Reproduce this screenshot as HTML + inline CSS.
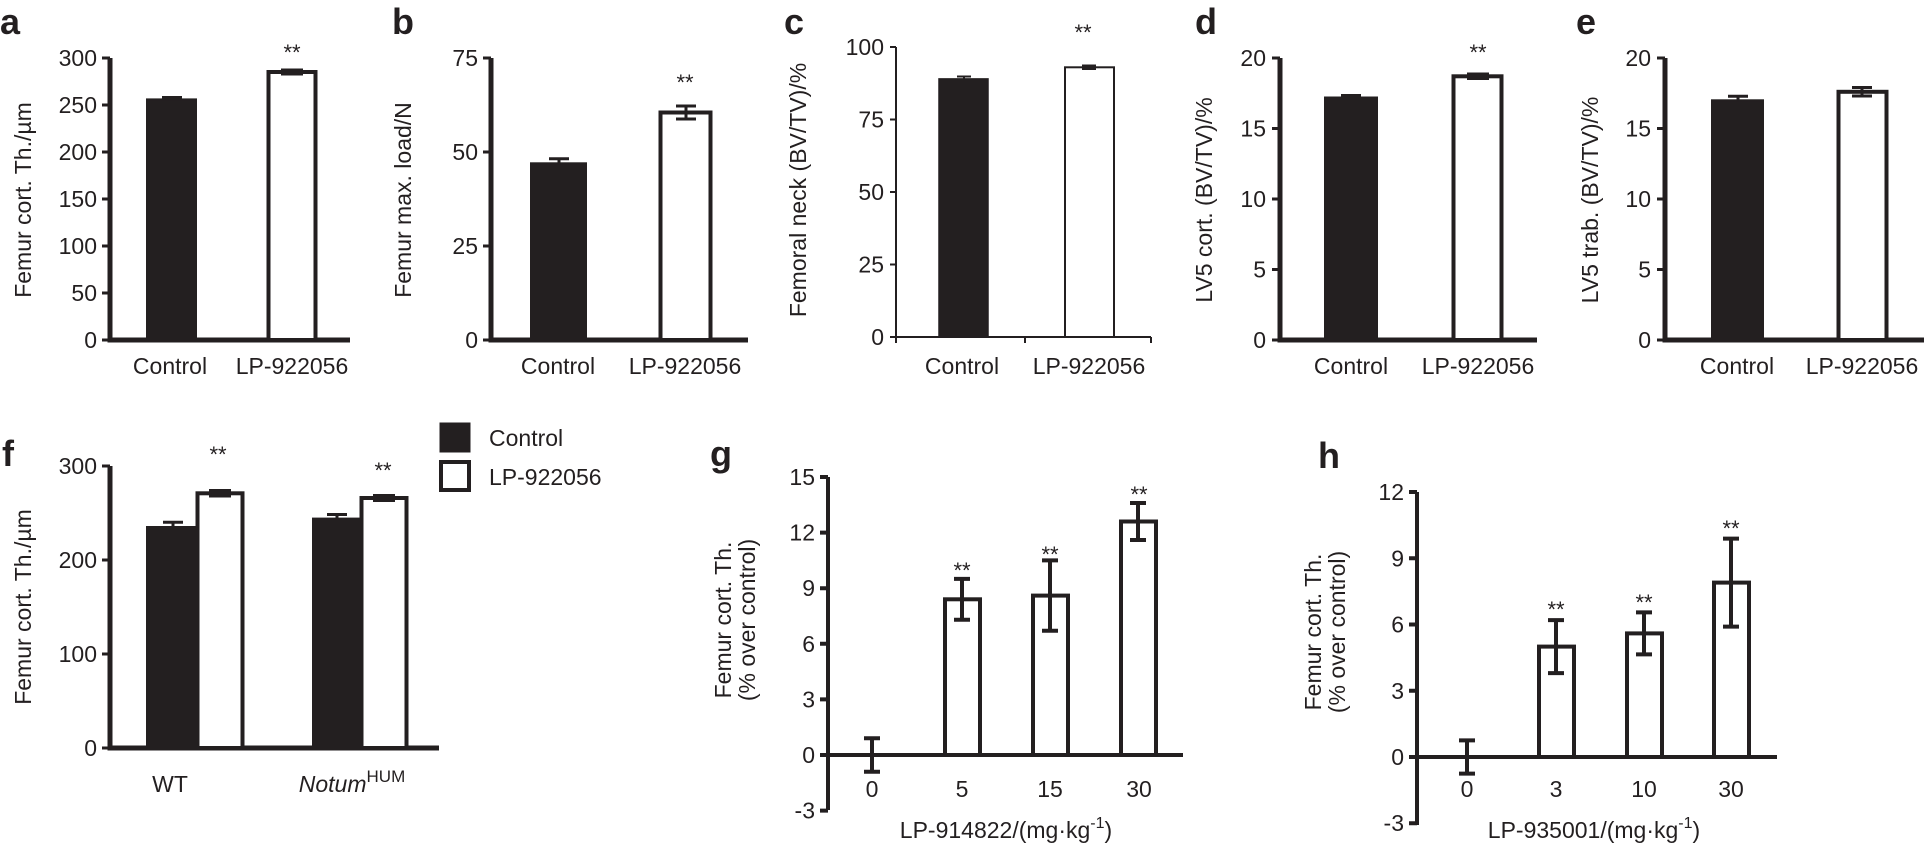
<!DOCTYPE html>
<html><head><meta charset="utf-8"><style>
html,body{margin:0;padding:0;background:#fff;}
svg{display:block;}
text{font-family:"Liberation Sans",Arial,sans-serif;fill:#231f20;}
.t{font-size:23px;}
.tr{font-size:23px;text-anchor:end;}
.tm{font-size:23px;text-anchor:middle;}
.L{font-size:36px;font-weight:bold;}
.s{font-size:22px;text-anchor:middle;}
</style></head><body>
<svg width="1924" height="845" viewBox="0 0 1924 845" xmlns="http://www.w3.org/2000/svg">
<g stroke="#231f20" fill="none" stroke-linecap="butt">

<!-- Panel a -->
<path d="M110 58V340H350" stroke-width="5"/>
<path d="M102 58h8M102 105h8M102 152h8M102 199h8M102 246h8M102 293h8M102 340h8" stroke-width="3"/>
<rect x="147" y="99.4" width="49" height="240.6" fill="#231f20" stroke-width="2"/>
<path d="M162 97.5h20" stroke-width="3"/>
<rect x="268.5" y="72" width="47" height="268" fill="#fff" stroke-width="4"/>
<path d="M282 69.5h20v5h-20z" fill="#231f20" stroke-width="2"/>

<!-- Panel b -->
<path d="M491 58V340H748" stroke-width="5"/>
<path d="M483 58h8M483 152h8M483 246h8M483 340h8" stroke-width="3"/>
<rect x="531" y="163.3" width="55" height="176.7" fill="#231f20" stroke-width="2"/>
<path d="M549 158.8h20M559 158.8v4.5" stroke-width="3"/>
<rect x="660.5" y="112.5" width="50" height="227.5" fill="#fff" stroke-width="4"/>
<path d="M676 106h20M676 119h20M686 106v13" stroke-width="3"/>

<!-- Panel c -->
<path d="M896 47V337H1151" stroke-width="2"/>
<path d="M890 47h6M890 119.5h6M890 192h6M890 264.5h6M890 337h6M1025 337v6M1151 337v6M896 337v6" stroke-width="2"/>
<rect x="939" y="78.9" width="49" height="258.1" fill="#231f20" stroke-width="1.5"/>
<path d="M957 76.5h14M964 76.5v3" stroke-width="2"/>
<rect x="1065" y="67.3" width="49" height="269.7" fill="#fff" stroke-width="2"/>
<path d="M1082 65.5h14M1082 69h14" stroke-width="2"/>

<!-- Panel d -->
<path d="M1280 58V340H1537" stroke-width="5"/>
<path d="M1272 58h8M1272 128.5h8M1272 199h8M1272 269.5h8M1272 340h8" stroke-width="3"/>
<rect x="1325" y="97.5" width="52" height="242.5" fill="#231f20" stroke-width="2"/>
<path d="M1341 95.5h20" stroke-width="3"/>
<rect x="1453.5" y="76.3" width="48" height="263.7" fill="#fff" stroke-width="4"/>
<path d="M1468 73.5h20v5.5h-20z" fill="#231f20" stroke-width="2"/>

<!-- Panel e -->
<path d="M1665 58V340H1924" stroke-width="5"/>
<path d="M1657 58h8M1657 128.5h8M1657 199h8M1657 269.5h8M1657 340h8" stroke-width="3"/>
<rect x="1712" y="100.3" width="51" height="239.7" fill="#231f20" stroke-width="2"/>
<path d="M1728 96.3h20M1738 96.3v4" stroke-width="3"/>
<rect x="1838.5" y="91.8" width="48" height="248.2" fill="#fff" stroke-width="4"/>
<path d="M1852 87.5h20M1852 96h20M1862 87.5v8.5" stroke-width="3"/>

<!-- Panel f -->
<path d="M110 466V748H439" stroke-width="5"/>
<path d="M102 466h8M102 560h8M102 654h8M102 748h8" stroke-width="3"/>
<rect x="147" y="527" width="49" height="221" fill="#231f20" stroke-width="2"/>
<path d="M163 522.3h20M173 522.3v5" stroke-width="3"/>
<rect x="197.5" y="493.3" width="45" height="254.7" fill="#fff" stroke-width="4"/>
<path d="M210 490h20v6.5h-20z" fill="#231f20" stroke-width="2"/>
<rect x="313" y="518.6" width="47" height="229.4" fill="#231f20" stroke-width="2"/>
<path d="M327 514.5h20M337 514.5v4" stroke-width="3"/>
<rect x="361.5" y="498" width="45" height="250" fill="#fff" stroke-width="4"/>
<path d="M374 495h20v6h-20z" fill="#231f20" stroke-width="2"/>
<!-- legend -->
<rect x="440" y="423" width="30" height="29" fill="#231f20" stroke-width="1"/>
<rect x="441" y="462" width="28" height="28" fill="#fff" stroke-width="4"/>

<!-- Panel g -->
<path d="M828 477V810" stroke-width="4"/>
<path d="M820 477h8M820 532.6h8M820 588.2h8M820 643.8h8M820 699.4h8M820 810.6h8M820 755h8M828 755H1183" stroke-width="4"/>
<rect x="945" y="599.3" width="35" height="155.7" fill="#fff" stroke-width="4"/>
<rect x="1033" y="595.6" width="35" height="159.4" fill="#fff" stroke-width="4"/>
<rect x="1121" y="521.5" width="35" height="233.5" fill="#fff" stroke-width="4"/>
<path d="M864 738.3h16M864 771.7h16M872 738.3v33.4" stroke-width="4"/>
<path d="M954 578.9h16M954 619.7h16M962 578.9v40.8" stroke-width="4"/>
<path d="M1042 560.4h16M1042 630.8h16M1050 560.4v70.4" stroke-width="4"/>
<path d="M1130 503h16M1130 540h16M1138 503v37" stroke-width="4"/>

<!-- Panel h -->
<path d="M1417 492V825" stroke-width="4"/>
<path d="M1409 492h8M1409 558.3h8M1409 624.5h8M1409 690.8h8M1409 823.2h8M1409 757h8M1417 757H1777" stroke-width="4"/>
<rect x="1539" y="646.6" width="35" height="110.4" fill="#fff" stroke-width="4"/>
<rect x="1627" y="633.4" width="35" height="123.6" fill="#fff" stroke-width="4"/>
<rect x="1714" y="582.6" width="35" height="174.4" fill="#fff" stroke-width="4"/>
<path d="M1459 740.4h16M1459 773.6h16M1467 740.4v33.2" stroke-width="4"/>
<path d="M1548 620.1h16M1548 673.1h16M1556 620.1v53" stroke-width="4"/>
<path d="M1636 612.4h16M1636 654.4h16M1644 612.4v42" stroke-width="4"/>
<path d="M1723 538.6h16M1723 626.6h16M1731 538.6v88" stroke-width="4"/>
</g>

<!-- Panel letters -->
<text class="L" x="0" y="34">a</text>
<text class="L" x="392" y="34">b</text>
<text class="L" x="784" y="34">c</text>
<text class="L" x="1195" y="34">d</text>
<text class="L" x="1576" y="34">e</text>
<text class="L" x="2" y="466">f</text>
<text class="L" x="710" y="466">g</text>
<text class="L" x="1318" y="468">h</text>

<!-- Panel a text -->
<text class="tr" x="97" y="66">300</text><text class="tr" x="97" y="113">250</text><text class="tr" x="97" y="160">200</text><text class="tr" x="97" y="207">150</text><text class="tr" x="97" y="254">100</text><text class="tr" x="97" y="301">50</text><text class="tr" x="97" y="348">0</text>
<text class="tm" x="170" y="374">Control</text><text class="tm" x="292" y="374">LP-922056</text>
<text class="s" x="292" y="60">**</text>
<text class="tm" transform="translate(31,200) rotate(-90)">Femur cort. Th./µm</text>

<!-- Panel b text -->
<text class="tr" x="478" y="66">75</text><text class="tr" x="478" y="160">50</text><text class="tr" x="478" y="254">25</text><text class="tr" x="478" y="348">0</text>
<text class="tm" x="558" y="374">Control</text><text class="tm" x="685" y="374">LP-922056</text>
<text class="s" x="685" y="90">**</text>
<text class="tm" transform="translate(411,200) rotate(-90)">Femur max. load/N</text>

<!-- Panel c text -->
<text class="tr" x="884" y="55">100</text><text class="tr" x="884" y="127.5">75</text><text class="tr" x="884" y="200">50</text><text class="tr" x="884" y="272.5">25</text><text class="tr" x="884" y="345">0</text>
<text class="tm" x="962" y="374">Control</text><text class="tm" x="1089" y="374">LP-922056</text>
<text class="s" x="1083" y="40">**</text>
<text class="tm" transform="translate(806,190) rotate(-90)">Femoral neck (BV/TV)/%</text>

<!-- Panel d text -->
<text class="tr" x="1266" y="66">20</text><text class="tr" x="1266" y="136.5">15</text><text class="tr" x="1266" y="207">10</text><text class="tr" x="1266" y="277.5">5</text><text class="tr" x="1266" y="348">0</text>
<text class="tm" x="1351" y="374">Control</text><text class="tm" x="1478" y="374">LP-922056</text>
<text class="s" x="1478" y="60">**</text>
<text class="tm" transform="translate(1212,200) rotate(-90)">LV5 cort. (BV/TV)/%</text>

<!-- Panel e text -->
<text class="tr" x="1651" y="66">20</text><text class="tr" x="1651" y="136.5">15</text><text class="tr" x="1651" y="207">10</text><text class="tr" x="1651" y="277.5">5</text><text class="tr" x="1651" y="348">0</text>
<text class="tm" x="1737" y="374">Control</text><text class="tm" x="1862" y="374">LP-922056</text>
<text class="tm" transform="translate(1598,200) rotate(-90)">LV5 trab. (BV/TV)/%</text>

<!-- Panel f text -->
<text class="tr" x="97" y="474">300</text><text class="tr" x="97" y="568">200</text><text class="tr" x="97" y="662">100</text><text class="tr" x="97" y="756">0</text>
<text class="tm" x="170" y="792">WT</text>
<text class="tm" x="352" y="792"><tspan font-style="italic">Notum</tspan><tspan font-size="17" dy="-10">HUM</tspan></text>
<text class="s" x="218" y="462">**</text><text class="s" x="383" y="478">**</text>
<text class="tm" transform="translate(31,607) rotate(-90)">Femur cort. Th./µm</text>
<text class="t" x="489" y="446">Control</text><text class="t" x="489" y="485">LP-922056</text>

<!-- Panel g text -->
<text class="tr" x="815" y="485">15</text><text class="tr" x="815" y="540.6">12</text><text class="tr" x="815" y="596.2">9</text><text class="tr" x="815" y="651.8">6</text><text class="tr" x="815" y="707.4">3</text><text class="tr" x="815" y="763">0</text><text class="tr" x="815" y="818.6">-3</text>
<text class="tm" x="872" y="797">0</text><text class="tm" x="962" y="797">5</text><text class="tm" x="1050" y="797">15</text><text class="tm" x="1139" y="797">30</text>
<text class="s" x="962" y="578">**</text><text class="s" x="1050" y="562">**</text><text class="s" x="1139" y="502">**</text>
<text class="tm" x="1006" y="838">LP-914822/(mg·kg<tspan font-size="16" dy="-10">-1</tspan><tspan dy="10">)</tspan></text>
<text class="tm" transform="translate(731,620) rotate(-90)">Femur cort. Th.</text>
<text class="tm" transform="translate(755,620) rotate(-90)">(% over control)</text>

<!-- Panel h text -->
<text class="tr" x="1404" y="500">12</text><text class="tr" x="1404" y="566.3">9</text><text class="tr" x="1404" y="632.5">6</text><text class="tr" x="1404" y="698.8">3</text><text class="tr" x="1404" y="765">0</text><text class="tr" x="1404" y="831.2">-3</text>
<text class="tm" x="1467" y="797">0</text><text class="tm" x="1556" y="797">3</text><text class="tm" x="1644" y="797">10</text><text class="tm" x="1731" y="797">30</text>
<text class="s" x="1556" y="617">**</text><text class="s" x="1644" y="610">**</text><text class="s" x="1731" y="536">**</text>
<text class="tm" x="1594" y="838">LP-935001/(mg·kg<tspan font-size="16" dy="-10">-1</tspan><tspan dy="10">)</tspan></text>
<text class="tm" transform="translate(1321,632) rotate(-90)">Femur cort. Th.</text>
<text class="tm" transform="translate(1345,632) rotate(-90)">(% over control)</text>
</svg>
</body></html>
